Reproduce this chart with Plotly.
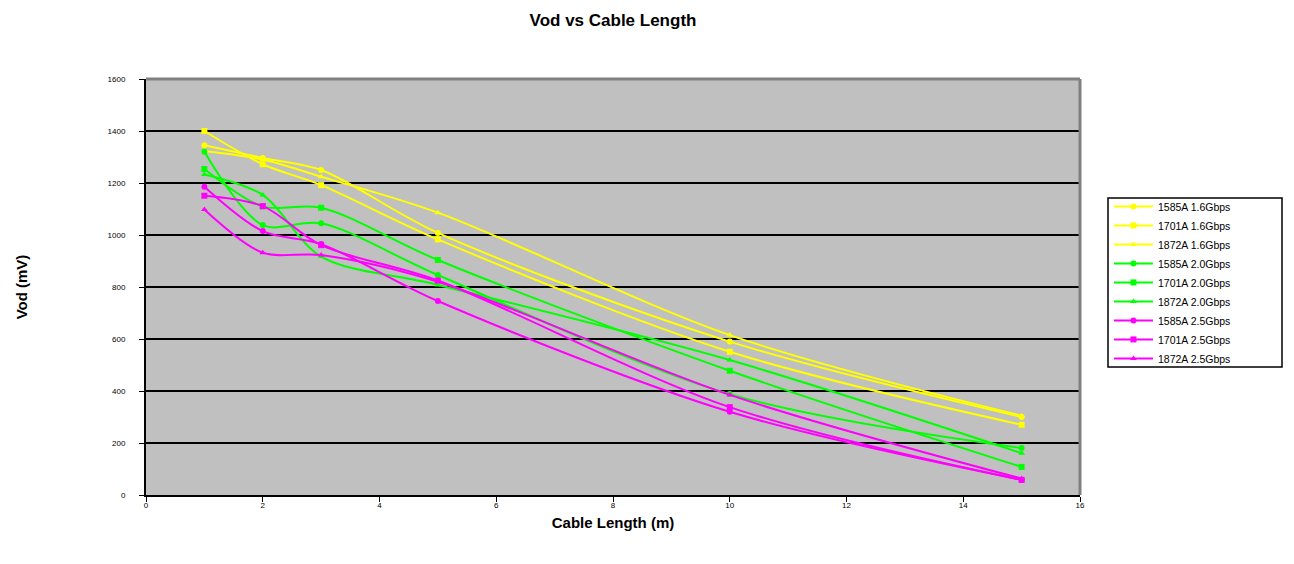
import plotly.graph_objects as go

cable_length = [1, 2, 3, 5, 10, 15]

series_names = [
    "1585A 1.6Gbps", "1701A 1.6Gbps", "1872A 1.6Gbps",
    "1585A 2.0Gbps", "1701A 2.0Gbps", "1872A 2.0Gbps",
    "1585A 2.5Gbps", "1701A 2.5Gbps", "1872A 2.5Gbps",
]

vod_1585A_16 = [1345, 1296, 1250, 1008, 590, 300]
vod_1701A_16 = [1400, 1272, 1192, 983, 551, 270]
vod_1872A_16 = [1323, 1290, 1224, 1086, 615, 305]
vod_1585A_20 = [1320, 1038, 1045, 846, 388, 181]
vod_1701A_20 = [1254, 1110, 1105, 904, 478, 108]
vod_1872A_20 = [1233, 1154, 917, 808, 519, 161]
vod_1585A_25 = [1186, 1015, 965, 746, 320, 58]
vod_1701A_25 = [1151, 1111, 961, 825, 338, 58]
vod_1872A_25 = [1098, 932, 923, 820, 385, 63]

series_values = [
    vod_1585A_16, vod_1701A_16, vod_1872A_16,
    vod_1585A_20, vod_1701A_20, vod_1872A_20,
    vod_1585A_25, vod_1701A_25, vod_1872A_25,
]

colors = ["#FFFF00"] * 3 + ["#00FF00"] * 3 + ["#FF00FF"] * 3
symbols = ["circle", "square", "triangle-up"] * 3

FONT = "Arial, Liberation Sans, sans-serif"
W, H = 1286, 548

fig = go.Figure()
for name, vals, col, sym in zip(series_names, series_values, colors, symbols):
    fig.add_trace(go.Scatter(
        x=cable_length, y=vals, name=name, mode="lines+markers",
        line=dict(color=col, width=2, shape="spline", smoothing=0.9),
        marker=dict(color=col, symbol=sym, size=6),
    ))

fig.update_layout(
    width=W, height=H,
    paper_bgcolor="white", plot_bgcolor="#C0C0C0",
    margin=dict(l=138, r=W - 138 - 934, t=71, b=H - 71 - 416, autoexpand=False),
    title=dict(text="<b>Vod vs Cable Length</b>", x=605 / W,
               xanchor="center", y=1 - 12 / H, yanchor="middle",
               font=dict(family=FONT, size=17, color="black")),
    font=dict(family=FONT, color="black"),
    showlegend=True,
    legend=dict(x=1.031, xanchor="left", y=0.511, yanchor="middle",
                borderwidth=0, bgcolor="rgba(0,0,0,0)",
                font=dict(family=FONT, size=10.5, color="black"),
                itemwidth=39, tracegroupgap=0),
    xaxis=dict(range=[0, 16], dtick=2, showgrid=False, zeroline=False,
               showline=True, linecolor="black", linewidth=2, mirror=False,
               ticks="outside", ticklen=5, tickcolor="black", tickwidth=1,
               ticklabelstandoff=-4, automargin=False,
               tickfont=dict(family=FONT, size=8, color="black"),
               title=dict(text="<b>Cable Length (m)</b>", standoff=9,
                          font=dict(family=FONT, size=15, color="black"))),
    yaxis=dict(range=[0, 1600], dtick=200, showgrid=True, gridcolor="black",
               gridwidth=2, zeroline=False,
               showline=True, linecolor="black", linewidth=2,
               ticks="outside", ticklen=5, tickcolor="black", tickwidth=1,
               ticklabelstandoff=12, automargin=False,
               tickfont=dict(family=FONT, size=8, color="black"),
               title=dict(text="<b>Vod (mV)</b>", standoff=76,
                          font=dict(family=FONT, size=15, color="black"))),
)

# gray border on top and right of plot area
fig.add_shape(type="line", xref="paper", yref="paper", x0=0, x1=1, y0=1, y1=1,
              line=dict(color="#808080", width=3))
fig.add_shape(type="line", xref="paper", yref="paper", x0=1, x1=1, y0=0, y1=1,
              line=dict(color="#808080", width=3))
# legend frame
fig.add_shape(type="rect", xref="paper", yref="paper",
              x0=(1108 - 146) / 934, x1=(1282 - 146) / 934,
              y0=(495 - 367) / 416, y1=(495 - 198) / 416,
              line=dict(color="black", width=1.5), fillcolor="white", layer="below")

fig.write_html("out.html")
